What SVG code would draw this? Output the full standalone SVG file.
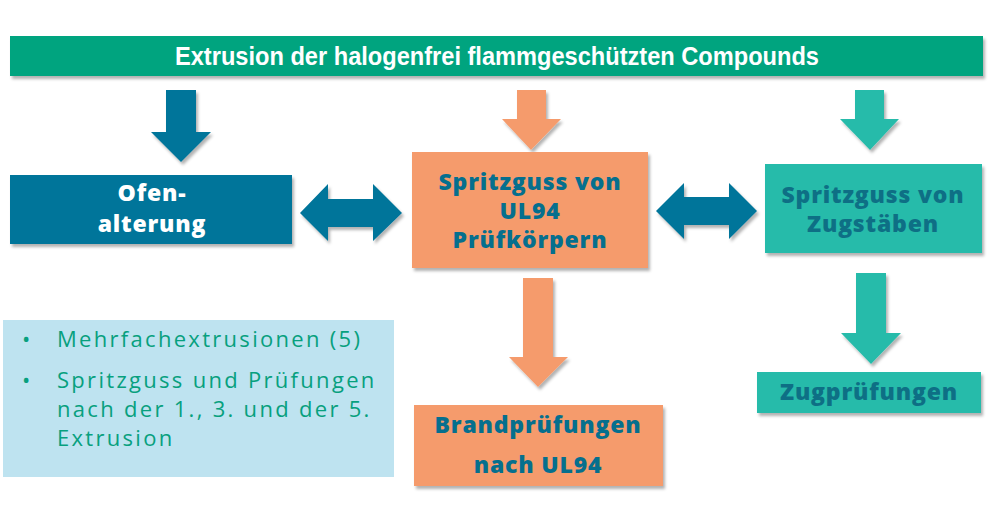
<svg xmlns="http://www.w3.org/2000/svg" width="1000" height="518" viewBox="0 0 1000 518">
  <defs>
    <filter id="sh" x="-10%" y="-10%" width="130%" height="140%">
      <feDropShadow dx="2" dy="3" stdDeviation="1.8" flood-color="#000" flood-opacity="0.3"/>
    </filter>
    <style>
      .blue{fill:#02749A}
      .orange{fill:#F59B6C}
      .teal{fill:#28BBAA}
      .green{fill:#04A47F}
      .lbl{font-family:"Open Sans","Noto Sans",sans-serif;font-weight:800;font-size:23px;text-anchor:middle;letter-spacing:0.8px}
      .w{fill:#FFFFFF}
      .d{fill:#056F8E}
      .b{font-family:"Open Sans","Noto Sans",sans-serif;font-size:22px;font-weight:500;fill:#07A07E;letter-spacing:2.3px}
    </style>
  </defs>
  <rect width="1000" height="518" fill="#FFFFFF"/>

  <g id="title">
    <rect class="green" x="10" y="36" width="973" height="40" filter="url(#sh)"/>
    <text x="497" y="65" font-family="'Liberation Sans Narrow','Liberation Sans',sans-serif" font-weight="bold" font-size="26" fill="#FFFFFF" text-anchor="middle" textLength="644" lengthAdjust="spacingAndGlyphs">Extrusion der halogenfrei flammgeschützten Compounds</text>
  </g>

  <g id="connectors">
    <polygon class="blue" filter="url(#sh)" points="166,90 196,90 196,132 211,132 181,162 151,132 166,132"/>
    <polygon class="orange" filter="url(#sh)" points="517,90 546,90 546,119 561,119 531,150 502,119 517,119"/>
    <polygon class="teal" filter="url(#sh)" points="855,90 884,90 884,119 899,119 870,150 840,119 855,119"/>
    <polygon class="blue" filter="url(#sh)" points="300,213 328,184 328,199 373,199 373,184 402,213 373,241 373,227 328,227 328,241"/>
    <polygon class="blue" filter="url(#sh)" points="656,211 684,183 684,197 729,197 729,183 757,211 729,239 729,225 684,225 684,239"/>
    <polygon class="orange" filter="url(#sh)" points="523,278 553,278 553,357 568,357 538,387 509,357 523,357"/>
    <polygon class="teal" filter="url(#sh)" points="856,273 886,273 886,333 901,333 871,364 841,333 856,333"/>
  </g>

  <g id="ofen">
    <rect class="blue" x="10" y="175" width="282" height="69" filter="url(#sh)"/>
    <text class="lbl w" x="152" y="201">Ofen-</text>
    <text class="lbl w" x="152" y="232">alterung</text>
  </g>

  <g id="spritzguss-ul94">
    <rect class="orange" x="412" y="152" width="236" height="116" filter="url(#sh)"/>
    <text class="lbl d" x="530" y="190">Spritzguss von</text>
    <text class="lbl d" x="530" y="219">UL94</text>
    <text class="lbl d" x="530" y="248">Prüfkörpern</text>
  </g>

  <g id="spritzguss-zug">
    <rect class="teal" x="765" y="164" width="217" height="89" filter="url(#sh)"/>
    <text class="lbl" fill="#0E6F85" x="873" y="203">Spritzguss von</text>
    <text class="lbl" fill="#0E6F85" x="873" y="232">Zugstäben</text>
  </g>

  <g id="brand">
    <rect class="orange" x="414" y="405" width="249" height="81" filter="url(#sh)"/>
    <text class="lbl d" x="538" y="433">Brandprüfungen</text>
    <text class="lbl d" x="538" y="473">nach UL94</text>
  </g>

  <g id="zug">
    <rect class="teal" x="757" y="372" width="224" height="41" filter="url(#sh)"/>
    <text class="lbl" fill="#0E6F85" x="869" y="400">Zugprüfungen</text>
  </g>

  <g id="notes">
    <rect x="3" y="320" width="391" height="157" fill="#BEE3F0"/>
    <text class="b" x="22" y="347">•</text>
    <text class="b" x="57" y="347">Mehrfachextrusionen (5)</text>
    <text class="b" x="22" y="388">•</text>
    <text class="b" x="57" y="388">Spritzguss und Prüfungen</text>
    <text class="b" x="57" y="417">nach der 1., 3. und der 5.</text>
    <text class="b" x="57" y="446">Extrusion</text>
  </g>
</svg>
